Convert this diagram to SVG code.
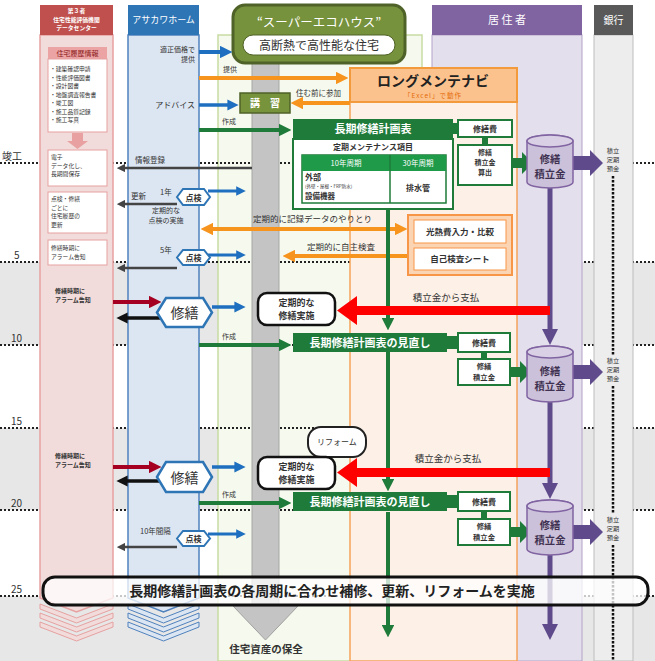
<svg xmlns="http://www.w3.org/2000/svg" width="655" height="661" viewBox="0 0 655 661">
<style>
text{font-family:"Noto Sans CJK JP","Noto Sans",sans-serif;fill:#333}
.c{text-anchor:middle}.r{text-anchor:end}.b{font-weight:bold}.w{fill:#fff}
.yl{stroke:#222;stroke-width:2;stroke-dasharray:2 2}
.band{fill:#e7e7e7}
.pbox{fill:#fff;stroke:#e6a1a1;stroke-width:1}
.gbox{fill:#fff;stroke:#1e7b3a;stroke-width:2}
.gdark{fill:#1e7b3a}
.cyl{fill:#ccc1da;stroke:#8064a2;stroke-width:1.5}
.cylt{font-size:10.3px;font-weight:bold;fill:#3f3151}
.hex{fill:#fff;stroke:#2e75b6;stroke-width:2.5}
.hexs{fill:#fff;stroke:#2e75b6;stroke-width:2}
.rbox{fill:#fff;stroke:#111;stroke-width:2.5}
.ln{fill:none}
.bl{stroke:#1f6fc0}.or{stroke:#f7941d}.gr{stroke:#1e7b3a}.gy{stroke:#444}.dr{stroke:#a50021}.bk{stroke:#111}.pu{stroke:#5f4b8b}
.redarr{fill:#ff0000}.garr{fill:#1e7b3a}.parr{fill:#5f4b8b}
.yr{font-size:10px;fill:#333}
.bank{font-size:6.2px;text-anchor:middle;fill:#333}
.pt{font-size:5.8px}
</style>
<defs>
<marker id="mbl" viewBox="0 0 10 10" refX="5" refY="5" markerWidth="3.2" markerHeight="3.2" orient="auto-start-reverse"><path d="M0,0L10,5L0,10z" fill="#1f6fc0"/></marker>
<marker id="mor" viewBox="0 0 10 10" refX="5" refY="5" markerWidth="3.2" markerHeight="3.2" orient="auto-start-reverse"><path d="M0,0L10,5L0,10z" fill="#f7941d"/></marker>
<marker id="mgr" viewBox="0 0 10 10" refX="5" refY="5" markerWidth="3.2" markerHeight="3.2" orient="auto-start-reverse"><path d="M0,0L10,5L0,10z" fill="#1e7b3a"/></marker>
<marker id="mgy" viewBox="0 0 10 10" refX="5" refY="5" markerWidth="3.4" markerHeight="3.4" orient="auto-start-reverse"><path d="M0,0L10,5L0,10z" fill="#444"/></marker>
<marker id="mdr" viewBox="0 0 10 10" refX="5" refY="5" markerWidth="3.2" markerHeight="3.2" orient="auto-start-reverse"><path d="M0,0L10,5L0,10z" fill="#a50021"/></marker>
<marker id="mbk" viewBox="0 0 10 10" refX="5" refY="5" markerWidth="3.2" markerHeight="3.2" orient="auto-start-reverse"><path d="M0,0L10,5L0,10z" fill="#111"/></marker>
<marker id="mpu" viewBox="0 0 10 10" refX="5" refY="5" markerWidth="3.2" markerHeight="3.2" orient="auto-start-reverse"><path d="M0,0L10,5L0,10z" fill="#5f4b8b"/></marker>
</defs>

<g id="background">
<rect width="655" height="661" fill="#fff"/>
<rect class="band" x="0" y="262" width="655" height="83"/>
<rect class="band" x="0" y="428" width="655" height="82"/>
<rect class="band" x="0" y="596" width="655" height="65"/>
</g>

<g id="col-ecohouse-body">
<rect x="218" y="35" width="204" height="626" fill="#f6faee" stroke="#c9dca4" stroke-width="1.5"/>
</g>

<g id="year-lines">
<line class="yl" x1="0" y1="163" x2="655" y2="163"/>
<line class="yl" x1="0" y1="262" x2="655" y2="262"/>
<line class="yl" x1="0" y1="345" x2="655" y2="345"/>
<line class="yl" x1="0" y1="428" x2="655" y2="428"/>
<line class="yl" x1="0" y1="510" x2="655" y2="510"/>
<line class="yl" x1="0" y1="596" x2="655" y2="596"/>
<text class="yr" x="2" y="160">竣工</text>
<text class="yr" x="14" y="259">5</text>
<text class="yr" x="11" y="342">10</text>
<text class="yr" x="11" y="425">15</text>
<text class="yr" x="11" y="507">20</text>
<text class="yr" x="11" y="593">25</text>
</g>

<g id="col-datacenter">
<polygon points="40,35 113,35 113,598 76.5,612 40,598" fill="#f2dcdb" stroke="#e6a1a1" stroke-width="1.5"/>
<polygon points="40,604 76.5,618 113,604 113,609 76.5,623 40,609" fill="#f2dcdb" stroke="#e6a1a1"/>
<polygon points="40,613 76.5,627 113,613 113,618 76.5,632 40,618" fill="#f2dcdb" stroke="#e6a1a1"/>
<polygon points="40,622 76.5,636 113,622 113,627 76.5,641 40,627" fill="#f2dcdb" stroke="#e6a1a1"/>
<rect x="40" y="5" width="73" height="30" fill="#c0504d"/>
<text class="c b w" x="76.5" y="13.2" font-size="5.8">第３者</text>
<text class="c b w" x="76.5" y="21.6" font-size="5.8">住宅性能評価機関</text>
<text class="c b w" x="76.5" y="30" font-size="5.8">データセンター</text>
</g>

<g id="col-asakawa">
<polygon points="128,35 199,35 199,598 163.5,612 128,598" fill="#dce6f2" stroke="#4f81bd" stroke-width="1.5"/>
<polygon points="128,604 163.5,618 199,604 199,609 163.5,623 128,609" fill="#dce6f2" stroke="#4f81bd"/>
<polygon points="128,613 163.5,627 199,613 199,618 163.5,632 128,618" fill="#dce6f2" stroke="#4f81bd"/>
<polygon points="128,622 163.5,636 199,622 199,627 163.5,641 128,627" fill="#dce6f2" stroke="#4f81bd"/>
<rect x="128" y="5" width="71" height="30" fill="#2e75b6"/>
<text class="c w" x="163.5" y="23" font-size="9">アサカワホーム</text>
</g>

<g id="col-resident">
<rect x="432" y="35" width="150" height="626" fill="#e4dfec" stroke="#b3a2c7"/>
<rect x="432" y="5" width="150" height="30" fill="#8064a2"/>
<text class="c w" x="507" y="24" font-size="11">居 住 者</text>
</g>

<g id="col-longmaintenavi">
<rect x="350" y="68" width="167" height="593" fill="#fdf0e6" stroke="#f5a35a" stroke-width="1.5"/>
<rect x="350" y="68" width="167" height="34" fill="#fcc28e" stroke="#f39b3c" stroke-width="2"/>
<text class="c b" x="433" y="86" font-size="14" style="fill:#222">ロングメンテナビ</text>
<text class="c" x="433" y="98" font-size="6.5" style="fill:#e36c09" letter-spacing="1">「Excel」で動作</text>
</g>

<g id="col-bank">
<rect x="594" y="35" width="39" height="626" fill="#ededed" stroke="#bdbdbd"/>
<rect x="594" y="5" width="39" height="30" fill="#595959"/>
<text class="c w" x="613.5" y="24" font-size="10">銀行</text>
<line x1="613" y1="176" x2="613" y2="356" stroke="#111" stroke-width="2.5" stroke-dasharray="2.5 1.5"/>
<line x1="613" y1="386" x2="613" y2="514" stroke="#111" stroke-width="2.5" stroke-dasharray="2.5 1.5"/>
<line x1="613" y1="545" x2="613" y2="661" stroke="#111" stroke-width="2.5" stroke-dasharray="2.5 1.5"/>
</g>

<g id="pipe">
<rect x="252" y="60" width="27" height="548" fill="#c4c4c4" stroke="#a6a6a6"/>
<polygon points="252,606 279,606 298,606 265.5,640 233,606" fill="#c4c4c4" stroke="#a0a0a0"/>
<text class="c b" x="266" y="653" font-size="10.5">住宅資産の保全</text>
</g>

<g id="n-ecohouse">
<rect x="233" y="5" width="172" height="58" rx="12" fill="#76923c" stroke="#4f6228" stroke-width="3"/>
<text class="c w" x="319" y="27" font-size="12.5">“スーパーエコハウス”</text>
<rect x="243" y="35" width="152" height="20" rx="10" fill="#fff" stroke="#4f6228"/>
<text class="c" x="319" y="50" font-size="12">高断熱で高性能な住宅</text>
</g>

<g id="connectors">
<line class="ln bl" x1="199" y1="52" x2="226" y2="52" stroke-width="4" marker-end="url(#mbl)"/>
<line class="ln or" x1="199" y1="78" x2="342" y2="78" stroke-width="4" marker-end="url(#mor)"/>
<line class="ln bl" x1="199" y1="105" x2="233" y2="105" stroke-width="3.5" marker-end="url(#mbl)"/>
<line class="ln or" x1="350" y1="103" x2="297" y2="103" stroke-width="4" marker-end="url(#mor)"/>
<line class="ln gr" x1="199" y1="130" x2="285" y2="130" stroke-width="4" marker-end="url(#mgr)"/>
<line class="ln gy" x1="252" y1="168" x2="121" y2="168" stroke-width="2.5" marker-end="url(#mgy)"/>
<line class="ln bl" x1="208" y1="191" x2="241" y2="191" stroke-width="3" marker-end="url(#mbl)"/>
<line class="ln gy" x1="177" y1="204" x2="121" y2="204" stroke-width="2.5" marker-end="url(#mgy)"/>
<line class="ln or" x1="207" y1="229" x2="401" y2="229" stroke-width="4" marker-start="url(#mor)" marker-end="url(#mor)"/>
<line class="ln or" x1="412" y1="256" x2="289" y2="256" stroke-width="4" marker-end="url(#mor)"/>
<line class="ln bl" x1="208" y1="255" x2="241" y2="255" stroke-width="3" marker-end="url(#mbl)"/>
<line class="ln gy" x1="177" y1="268" x2="121" y2="268" stroke-width="2.5" marker-end="url(#mgy)"/>
<line class="ln dr" x1="113" y1="302" x2="155" y2="302" stroke-width="4" marker-end="url(#mdr)"/>
<line class="ln bk" x1="160" y1="318" x2="122" y2="318" stroke-width="3.5" marker-end="url(#mbk)"/>
<line class="ln bl" x1="212" y1="307" x2="240" y2="307" stroke-width="3.5" marker-end="url(#mbl)"/>
<line class="ln gr" x1="199" y1="345" x2="285" y2="345" stroke-width="4" marker-end="url(#mgr)"/>
<line class="ln dr" x1="113" y1="467" x2="155" y2="467" stroke-width="4" marker-end="url(#mdr)"/>
<line class="ln bk" x1="160" y1="481" x2="122" y2="481" stroke-width="3.5" marker-end="url(#mbk)"/>
<line class="ln bl" x1="212" y1="467" x2="240" y2="467" stroke-width="3.5" marker-end="url(#mbl)"/>
<line class="ln gr" x1="199" y1="503" x2="285" y2="503" stroke-width="4" marker-end="url(#mgr)"/>
<line class="ln bl" x1="208" y1="534" x2="241" y2="534" stroke-width="3" marker-end="url(#mbl)"/>
<line class="ln gy" x1="177" y1="547" x2="121" y2="547" stroke-width="2.5" marker-end="url(#mgy)"/>
<line class="ln gr" x1="388" y1="208" x2="388" y2="324" stroke-width="4" marker-end="url(#mgr)"/>
<line class="ln gr" x1="388" y1="352" x2="388" y2="485" stroke-width="4" marker-end="url(#mgr)"/>
<line class="ln gr" x1="388" y1="512" x2="388" y2="631" stroke-width="4" marker-end="url(#mgr)"/>
<line class="ln pu" x1="550" y1="188" x2="550" y2="337" stroke-width="5" marker-end="url(#mpu)"/>
<line class="ln pu" x1="550" y1="402" x2="550" y2="491" stroke-width="5" marker-end="url(#mpu)"/>
<line class="ln pu" x1="550" y1="555" x2="550" y2="632" stroke-width="5" marker-end="url(#mpu)"/>
<polygon class="redarr" points="550,306 357,306 357,296 337,310.5 357,325 357,315 550,315"/>
<polygon class="redarr" points="550,468 357,468 357,458 337,472.5 357,487 357,477 550,477"/>
<polygon class="garr" points="512,158 522,158 522,152 533,163 522,174 522,168 512,168"/>
<polygon class="garr" points="510,367 520,367 520,361 531,372 520,383 520,377 510,377"/>
<polygon class="garr" points="510,527 520,527 520,521 531,532 520,543 520,537 510,537"/>
<polygon class="parr" points="573,156 590,156 590,150 603,163 590,176 590,170 573,170"/>
<polygon class="parr" points="573,365 590,365 590,359 603,372 590,385 590,379 573,379"/>
<polygon class="parr" points="573,525 590,525 590,519 603,532 590,545 590,539 573,539"/>
</g>

<g id="labels">
<text class="r" x="195" y="52" font-size="7">適正価格で</text>
<text class="r" x="195" y="62.2" font-size="7">提供</text>
<text class="r" x="195" y="108" font-size="8">アドバイス</text>
<text x="223" y="72" font-size="7">提供</text>
<text x="296" y="96" font-size="7.5">住む前に参加</text>
<text x="222" y="124" font-size="7">作成</text>
<text x="222" y="339" font-size="7">作成</text>
<text x="222" y="497" font-size="7">作成</text>
<text x="135" y="163" font-size="7.5">情報登録</text>
<text x="131" y="199" font-size="7.5">更新</text>
<text x="160" y="195" font-size="7.5">1年</text>
<text class="c" x="166" y="213" font-size="7">定期的な</text>
<text class="c" x="166" y="223.3" font-size="7">点検の実施</text>
<text x="253" y="222" font-size="8.5">定期的に記録データのやりとり</text>
<text x="307" y="250" font-size="8.5">定期的に自主検査</text>
<text x="160" y="253" font-size="7.5">5年</text>
<text x="140" y="534" font-size="7.5">10年間隔</text>
<text class="c" x="446" y="301" font-size="9.5">積立金から支払</text>
<text class="c" x="448" y="462" font-size="9.5">積立金から支払</text>
<text class="b" x="55" y="293" font-size="6">修繕時期に</text>
<text class="b" x="55" y="301.8" font-size="6">アラーム告知</text>
<text class="b" x="55" y="458" font-size="6">修繕時期に</text>
<text class="b" x="55" y="466.8" font-size="6">アラーム告知</text>
</g>

<g id="n-history">
<rect x="48" y="47" width="59" height="12" fill="#eba3a3"/>
<text class="c" x="77.5" y="56" font-size="7" style="fill:#8b1a1a">住宅履歴情報</text>
<rect class="pbox" x="48" y="59" width="59" height="73"/>
<text class="pt" x="50" y="71">・建築確認申請</text>
<text class="pt" x="50" y="79.5">・性能評価図書</text>
<text class="pt" x="50" y="88">・設計図書</text>
<text class="pt" x="50" y="96.5">・地盤調査報告書</text>
<text class="pt" x="50" y="105">・竣工図</text>
<text class="pt" x="50" y="113.5">・施工品質記録</text>
<text class="pt" x="50" y="122">・施工写真</text>
<polygon points="72,133 83,133 83,141 88,141 77.5,149 67,141 72,141" fill="#e8a0a0"/>
</g>
<g id="n-store">
<rect class="pbox" x="48" y="150" width="59" height="36"/>
<text class="pt" x="51" y="159">電子</text>
<text class="pt" x="51" y="167.5">データ化し、</text>
<text class="pt" x="51" y="176">長期間保存</text>
</g>
<g id="n-update">
<rect class="pbox" x="48" y="192" width="59" height="41"/>
<text class="pt" x="51" y="201">点検・修繕</text>
<text class="pt" x="51" y="209.5">ごとに</text>
<text class="pt" x="51" y="218">住宅履歴の</text>
<text class="pt" x="51" y="226.5">更新</text>
</g>
<g id="n-alarm">
<rect class="pbox" x="48" y="240" width="59" height="25"/>
<text class="pt" x="51" y="250">修繕時期に</text>
<text class="pt" x="51" y="258.5">アラーム告知</text>
</g>

<g id="n-lecture">
<rect x="240" y="93" width="50" height="20" fill="#77933c" stroke="#4f6228" stroke-width="1.5"/>
<text class="c b w" x="265" y="107" font-size="10">講　習</text>
</g>

<g id="n-plan">
<rect x="293" y="119" width="160" height="20" class="gdark"/>
<rect x="453" y="123" width="6" height="11" class="gdark"/>
<text class="c b w" x="373" y="133" font-size="11">長期修繕計画表</text>
<rect class="gbox" x="293" y="139" width="160" height="70"/>
<text class="c b" x="373" y="150" font-size="8">定期メンテナンス項目</text>
<rect x="302" y="155" width="144" height="48" fill="#fff" stroke="#1e7b3a" stroke-width="1.5"/>
<rect x="302" y="155" width="144" height="16" fill="#1e9a48"/>
<line x1="390" y1="155" x2="390" y2="203" stroke="#1e7b3a" stroke-width="1.5"/>
<text class="c w" x="346" y="166" font-size="7.5">10年周期</text>
<text class="c w" x="418" y="166" font-size="7.5">30年周期</text>
<text class="b" x="305" y="180" font-size="8">外部</text>
<text x="305" y="188" font-size="4.5">(外壁・屋根・FRP防水)</text>
<text class="b" x="305" y="199" font-size="7.5">設備機器</text>
<text class="c b" x="418" y="191" font-size="8">排水管</text>
</g>
<g id="n-cost1">
<rect class="gbox" x="458" y="120" width="54" height="17"/>
<text class="c b" x="485" y="132" font-size="8">修繕費</text>
<rect x="482" y="137" width="6" height="8" class="gdark"/>
<rect class="gbox" x="458" y="145" width="54" height="40"/>
<text class="c b" x="485" y="154.5" font-size="7">修繕</text>
<text class="c b" x="485" y="164.7" font-size="7">積立金</text>
<text class="c b" x="485" y="174.9" font-size="7">算出</text>
</g>
<g id="n-fund1">
<path class="cyl" d="M527,141 A23,6 0 0 1 573,141 L573,182 A23,6 0 0 1 527,182 Z"/>
<ellipse cx="550" cy="141" rx="23" ry="6" fill="#d9d0e5" stroke="#8064a2" stroke-width="1.5"/>
<text class="c cylt" x="550" y="163">修繕</text>
<text class="c cylt" x="550" y="178">積立金</text>
</g>
<g id="n-bank1">
<text class="bank" x="613" y="153">積立</text>
<text class="bank" x="613" y="162">定期</text>
<text class="bank" x="613" y="171">預金</text>
</g>

<g id="n-selfcheck">
<rect x="408" y="215" width="104" height="60" fill="#fbd4b4" stroke="#f79646" stroke-width="2"/>
<rect x="414" y="220" width="92" height="23" fill="#fff" stroke="#f79646"/>
<text class="c b" x="460" y="235" font-size="8.5">光熱費入力・比較</text>
<rect x="414" y="248" width="92" height="22" fill="#fff" stroke="#f79646"/>
<text class="c b" x="460" y="262" font-size="8.5">自己検査シート</text>
</g>

<g id="n-check1">
<polygon class="hexs" points="177,197 183,189 204,189 210,197 204,205 183,205"/>
<text class="c b" x="193.5" y="200.5" font-size="8">点検</text>
</g>
<g id="n-check5">
<polygon class="hexs" points="177,257.5 183,250 204,250 210,257.5 204,265 183,265"/>
<text class="c b" x="193.5" y="261" font-size="8">点検</text>
</g>
<g id="n-check10">
<polygon class="hexs" points="177,538.5 183,531 204,531 210,538.5 204,546 183,546"/>
<text class="c b" x="193.5" y="542" font-size="8">点検</text>
</g>

<g id="n-repair1">
<polygon class="hex" points="157,312.5 166,298 203,298 212,312.5 203,327 166,327"/>
<text class="c" x="184.5" y="318" font-size="14">修繕</text>
</g>
<g id="n-repair2">
<polygon class="hex" points="157,477 166,462 203,462 212,477 203,492 166,492"/>
<text class="c" x="184.5" y="482.5" font-size="14">修繕</text>
</g>

<g id="n-exec1">
<rect class="rbox" x="258" y="293" width="77" height="32" rx="9"/>
<text class="c b" x="296.5" y="306" font-size="9">定期的な</text>
<text class="c b" x="296.5" y="319.3" font-size="9">修繕実施</text>
</g>
<g id="n-reform">
<rect x="308" y="427" width="58" height="30" rx="13" fill="#fff" stroke="#222" stroke-width="2"/>
<text class="c" x="337" y="445" font-size="8">リフォーム</text>
</g>
<g id="n-exec2">
<rect class="rbox" x="258" y="457" width="77" height="32" rx="9"/>
<text class="c b" x="296.5" y="470" font-size="9">定期的な</text>
<text class="c b" x="296.5" y="483.3" font-size="9">修繕実施</text>
</g>

<g id="n-review1">
<polygon class="gdark" points="293,333 447,333 447,336 458,336 458,349 447,349 447,352 293,352"/>
<text class="c b w" x="370" y="347" font-size="11">長期修繕計画表の見直し</text>
<rect class="gbox" x="458" y="333" width="52" height="19"/>
<text class="c b" x="484" y="346" font-size="8">修繕費</text>
<rect x="481" y="352" width="6" height="7" class="gdark"/>
<rect class="gbox" x="458" y="359" width="52" height="26"/>
<text class="c b" x="484" y="369" font-size="7.3">修繕</text>
<text class="c b" x="484" y="380" font-size="7.3">積立金</text>
</g>
<g id="n-fund2">
<path class="cyl" d="M527,352 A23,6 0 0 1 573,352 L573,396 A23,6 0 0 1 527,396 Z"/>
<ellipse cx="550" cy="352" rx="23" ry="6" fill="#d9d0e5" stroke="#8064a2" stroke-width="1.5"/>
<text class="c cylt" x="550" y="375">修繕</text>
<text class="c cylt" x="550" y="390">積立金</text>
</g>
<g id="n-bank2">
<text class="bank" x="613" y="363">積立</text>
<text class="bank" x="613" y="372">定期</text>
<text class="bank" x="613" y="381">預金</text>
</g>

<g id="n-review2">
<polygon class="gdark" points="293,492 447,492 447,495 458,495 458,508 447,508 447,511 293,511"/>
<text class="c b w" x="370" y="506" font-size="11">長期修繕計画表の見直し</text>
<rect class="gbox" x="458" y="492" width="52" height="19"/>
<text class="c b" x="484" y="505" font-size="8">修繕費</text>
<rect x="481" y="511" width="6" height="8" class="gdark"/>
<rect class="gbox" x="458" y="519" width="52" height="26"/>
<text class="c b" x="484" y="529" font-size="7.3">修繕</text>
<text class="c b" x="484" y="540" font-size="7.3">積立金</text>
</g>
<g id="n-fund3">
<path class="cyl" d="M527,506 A23,6 0 0 1 573,506 L573,549 A23,6 0 0 1 527,549 Z"/>
<ellipse cx="550" cy="506" rx="23" ry="6" fill="#d9d0e5" stroke="#8064a2" stroke-width="1.5"/>
<text class="c cylt" x="550" y="529">修繕</text>
<text class="c cylt" x="550" y="544">積立金</text>
</g>
<g id="n-bank3">
<text class="bank" x="613" y="522">積立</text>
<text class="bank" x="613" y="531">定期</text>
<text class="bank" x="613" y="540">預金</text>
</g>

<g id="n-banner">
<rect x="43" y="577" width="605" height="28" rx="12" fill="#fff" fill-opacity="0.75" stroke="#111" stroke-width="3"/>
<text class="c b" x="332" y="596" font-size="14" style="fill:#222">長期修繕計画表の各周期に合わせ補修、更新、リフォームを実施</text>
</g>
</svg>
